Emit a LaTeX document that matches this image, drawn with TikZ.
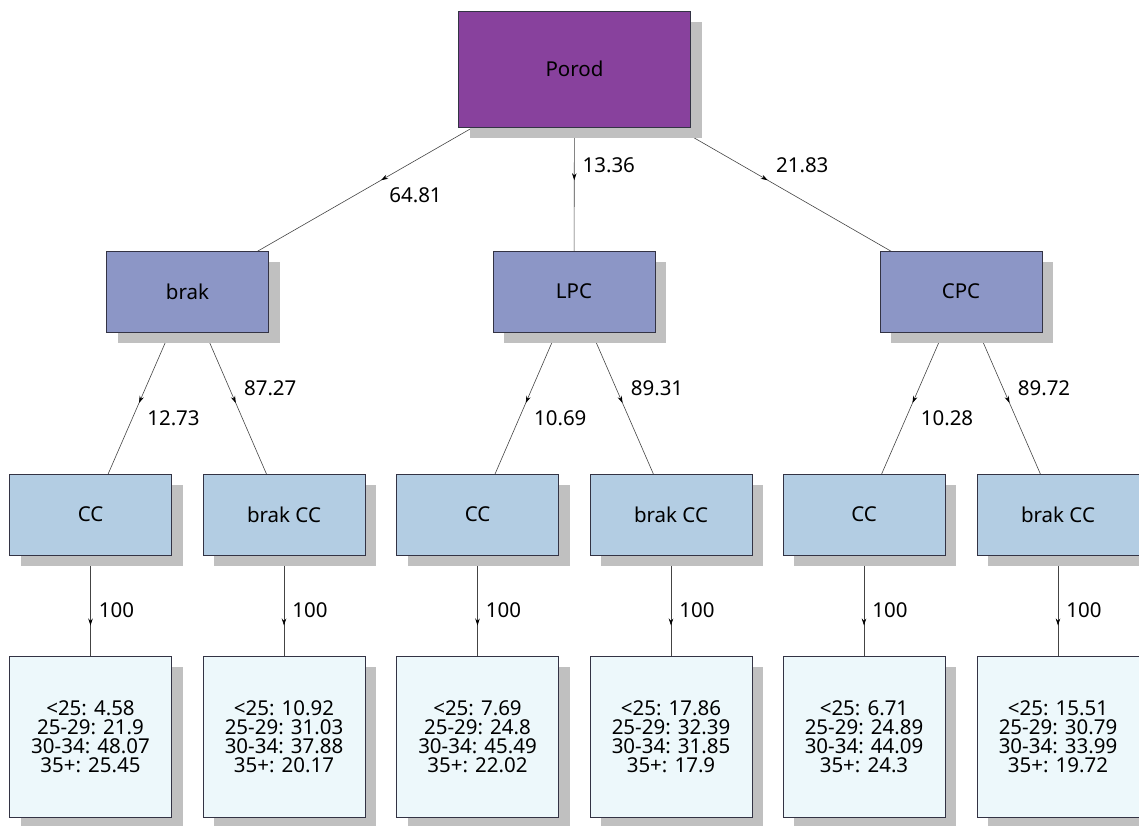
\documentclass[tikz,border=0pt]{standalone}
\usepackage{fontspec}
\setmainfont{Noto Sans}
\usetikzlibrary{shadows,arrows.meta,decorations.markings}
\pgfdeclarelayer{background}
\pgfsetlayers{background,main}
\definecolor{cRoot}{HTML}{88419D}
\definecolor{cL2}{HTML}{8C96C6}
\definecolor{cL3}{HTML}{B3CDE3}
\definecolor{cL4}{HTML}{EDF8FB}
\definecolor{shgray}{HTML}{C0C0C0}
\definecolor{bord}{HTML}{333344}
\definecolor{edgec}{HTML}{444444}
\tikzset{
  box/.style={draw=bord, line width=0.7pt, inner sep=0pt, align=center,
    font=\fontsize{20.5}{19}\selectfont,
    drop shadow={shadow xshift=11pt, shadow yshift=-11pt, fill=shgray, opacity=1}},
  rootbox/.style={box, fill=cRoot, minimum width=232pt, minimum height=116pt},
  lvtwo/.style={box, fill=cL2, minimum width=162pt, minimum height=81pt},
  lvthree/.style={box, fill=cL3, minimum width=162pt, minimum height=81pt},
  lvfour/.style={box, fill=cL4, minimum width=162pt, minimum height=161pt},
  conn/.style={draw=edgec, line width=0.6pt,
    postaction={decorate},
    decoration={markings, mark=at position 0.5 with {\arrow{Stealth[length=7pt,width=4.5pt,black]}}}},
  lbl/.style={font=\fontsize{20.5}{21}\selectfont, inner sep=0pt, anchor=west}
}
\begin{document}
\begin{tikzpicture}[x=1pt,y=-1pt]
\useasboundingbox (0,0) rectangle (1139,825);
% nodes
\node[rootbox] (root) at (574.5,69) {Porod};
\node[lvtwo] (brak) at (187.5,291.5) {brak};
\node[lvtwo] (lpc) at (574,291.5) {LPC};
\node[lvtwo] (cpc) at (961,291.5) {CPC};
\node[lvthree] (cc1) at (90.5,514.5) {CC};
\node[lvthree] (bc1) at (284,514.5) {brak CC};
\node[lvthree] (cc2) at (477.5,514.5) {CC};
\node[lvthree] (bc2) at (671,514.5) {brak CC};
\node[lvthree] (cc3) at (864,514.5) {CC};
\node[lvthree] (bc3) at (1058,514.5) {brak CC};
\node[lvfour] (d1) at (90.5,736.5) {<25: 4.58\\25-29: 21.9\\30-34: 48.07\\35+: 25.45};
\node[lvfour] (d2) at (284,736.5) {<25: 10.92\\25-29: 31.03\\30-34: 37.88\\35+: 20.17};
\node[lvfour] (d3) at (477.5,736.5) {<25: 7.69\\25-29: 24.8\\30-34: 45.49\\35+: 22.02};
\node[lvfour] (d4) at (671,736.5) {<25: 17.86\\25-29: 32.39\\30-34: 31.85\\35+: 17.9};
\node[lvfour] (d5) at (864,736.5) {<25: 6.71\\25-29: 24.89\\30-34: 44.09\\35+: 24.3};
\node[lvfour] (d6) at (1058,736.5) {<25: 15.51\\25-29: 30.79\\30-34: 33.99\\35+: 19.72};
% edges
\begin{pgfonlayer}{background}
\draw[conn] (root.center) -- (brak.center) node[lbl, pos=0.5, xshift=8pt, yshift=-15pt] {64.81};
\draw[conn] (root.center) -- (lpc.center) node[lbl, pos=0.5, xshift=8pt, yshift=15pt] {13.36};
\draw[conn] (root.center) -- (cpc.center) node[lbl, pos=0.5, xshift=8pt, yshift=15pt] {21.83};
\draw[conn] (brak.center) -- (cc1.center) node[lbl, pos=0.5, xshift=8pt, yshift=-15pt] {12.73};
\draw[conn] (brak.center) -- (bc1.center) node[lbl, pos=0.5, xshift=8pt, yshift=15pt] {87.27};
\draw[conn] (lpc.center) -- (cc2.center) node[lbl, pos=0.5, xshift=8pt, yshift=-15pt] {10.69};
\draw[conn] (lpc.center) -- (bc2.center) node[lbl, pos=0.5, xshift=8pt, yshift=15pt] {89.31};
\draw[conn] (cpc.center) -- (cc3.center) node[lbl, pos=0.5, xshift=8pt, yshift=-15pt] {10.28};
\draw[conn] (cpc.center) -- (bc3.center) node[lbl, pos=0.5, xshift=8pt, yshift=15pt] {89.72};
\draw[conn] (cc1.center) -- (d1.center) node[lbl, pos=0.5, xshift=8pt, yshift=15pt] {100};
\draw[conn] (bc1.center) -- (d2.center) node[lbl, pos=0.5, xshift=8pt, yshift=15pt] {100};
\draw[conn] (cc2.center) -- (d3.center) node[lbl, pos=0.5, xshift=8pt, yshift=15pt] {100};
\draw[conn] (bc2.center) -- (d4.center) node[lbl, pos=0.5, xshift=8pt, yshift=15pt] {100};
\draw[conn] (cc3.center) -- (d5.center) node[lbl, pos=0.5, xshift=8pt, yshift=15pt] {100};
\draw[conn] (bc3.center) -- (d6.center) node[lbl, pos=0.5, xshift=8pt, yshift=15pt] {100};
\end{pgfonlayer}
\end{tikzpicture}
\end{document}
